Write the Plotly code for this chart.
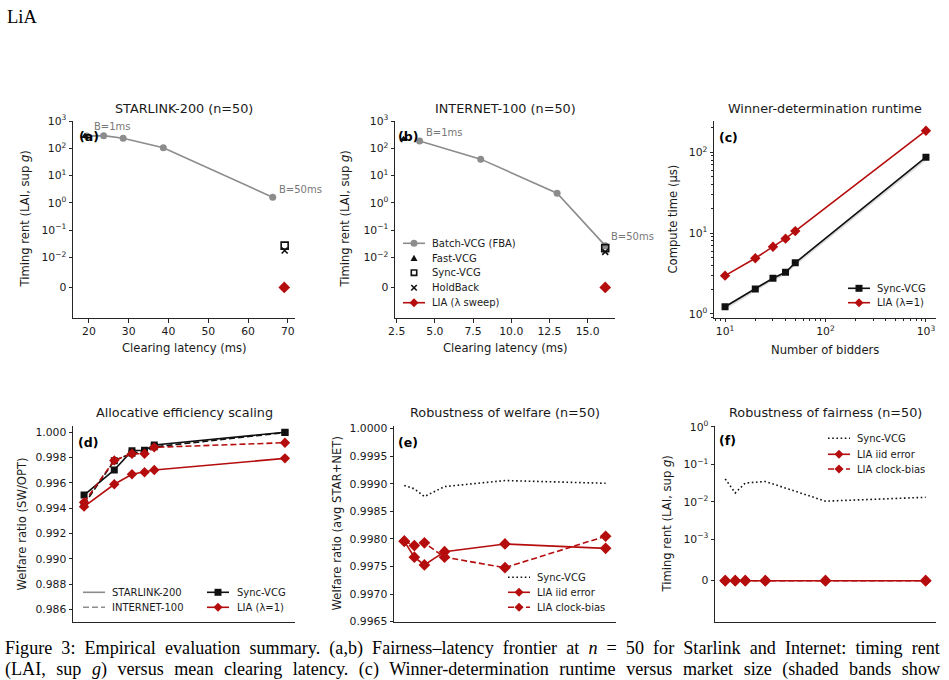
import math
import plotly.graph_objects as go

W, H = 949, 680

# ---------------- data ----------------
# (a) STARLINK-200
a_batch_lat = [19.5, 23.7, 28.6, 38.7, 66.2]
a_batch_rent = [280, 290, 233, 105, 1.6]
a_fast_lat = [19.0]
a_fast_rent = [275]
a_sync_lat = [69.2]
a_sync_rent = [0.027]
a_hold_lat = [69.2]
a_hold_rent = [0.018]
a_lia_lat = [69.1]
a_lia_rent = [0.0]

# (b) INTERNET-100
b_batch_lat = [4.0, 8.0, 13.0, 16.15]
b_batch_rent = [185, 40, 2.26, 0.027]
b_fast_lat = [2.95]
b_fast_rent = [215]
b_sync_lat = [16.15]
b_sync_rent = [0.022]
b_hold_lat = [16.15]
b_hold_rent = [0.016]
b_lia_lat = [16.15]
b_lia_rent = [0.0]

# (c) runtime
n_bidders = [10, 20, 30, 40, 50, 1000]
c_sync = [1.23, 2.04, 2.77, 3.28, 4.3, 87]
c_sync_lo = [1.13, 1.88, 2.58, 3.03, 3.95, 79]
c_sync_hi = [1.27, 2.09, 2.84, 3.38, 4.42, 89]
c_lia = [2.98, 4.89, 6.8, 8.55, 10.6, 185]

# (d) allocative efficiency
d_sync_star = [0.99504, 0.99702, 0.99855, 0.99858, 0.99900, 1.00000]
d_sync_net = [0.99430, 0.99775, 0.99835, 0.99850, 0.99885, 0.99998]
d_lia_star = [0.99412, 0.99589, 0.99668, 0.99684, 0.99702, 0.99794]
d_lia_net = [0.99446, 0.99778, 0.99831, 0.99831, 0.99881, 0.99918]

# (e) robustness of welfare
err_level = [0, 0.5, 1, 2, 5, 10]
e_sync = [0.99897, 0.99891, 0.99877, 0.99895, 0.99906, 0.99901]
e_lia_iid = [0.99796, 0.99767, 0.99753, 0.99777, 0.99791, 0.99783]
e_lia_clock = [0.99796, 0.99788, 0.99793, 0.99767, 0.99748, 0.99805]

# (f) robustness of fairness
f_sync = [0.041, 0.0173, 0.0317, 0.035, 0.0104, 0.0132]
f_lia_iid = [0, 0, 0, 0, 0, 0]
f_lia_clock = [0, 0, 0, 0, 0, 0]

# ---------------- styling ----------------
GRAY = "#8c8c8c"
RED = "#b50d0d"
BLACK = "#111111"
AX = "#262626"
FONT = "DejaVu Sans"
DASH = "6px,3px"
DOT = "1.6px,2.6px"
LW = 1.6


def symlog(vals, zero_pos):
    return [math.log10(v) if v > 0 else zero_pos for v in vals]


def dx(l, r):
    return [l / W, r / W]


def dy(top, bottom):
    return [1 - bottom / H, 1 - top / H]


def px_x(x):
    return x / W


def px_y(y):
    return 1 - y / H


ZA = -3.1    # position of 0 on symlog-like axes (a),(b)
ZF = -4.108  # position of 0 on axis (f)

fig = go.Figure()


def add(x, y, ax, mode, color, dash="solid", symbol=None, size=7, open_=False):
    kw = dict(x=x, y=y, xaxis="x" + ax, yaxis="y" + ax, mode=mode, showlegend=False, hoverinfo="x+y")
    if "lines" in mode:
        kw["line"] = dict(color=color, width=LW, dash=dash)
    if "markers" in mode:
        if open_:
            kw["marker"] = dict(symbol=symbol, size=size, color=color, line=dict(width=LW, color=color))
        else:
            kw["marker"] = dict(symbol=symbol, size=size, color=color, line=dict(width=0))
    fig.add_trace(go.Scatter(**kw))


# ---- (a) ----
add(a_batch_lat, symlog(a_batch_rent, ZA), "", "lines+markers", GRAY, symbol="circle", size=7)
add(a_fast_lat, symlog(a_fast_rent, ZA), "", "markers", BLACK, symbol="triangle-up", size=7)
add(a_sync_lat, symlog(a_sync_rent, ZA), "", "markers", BLACK, symbol="square-open", size=7, open_=True)
add(a_hold_lat, symlog(a_hold_rent, ZA), "", "markers", BLACK, symbol="x-thin", size=6, open_=True)
add(a_lia_lat, symlog(a_lia_rent, ZA), "", "markers", RED, symbol="diamond", size=9)

# ---- (b) ----
add(b_batch_lat, symlog(b_batch_rent, ZA), "2", "lines+markers", GRAY, symbol="circle", size=7)
add(b_fast_lat, symlog(b_fast_rent, ZA), "2", "markers", BLACK, symbol="triangle-up", size=7)
add(b_sync_lat, symlog(b_sync_rent, ZA), "2", "markers", BLACK, symbol="square-open", size=7, open_=True)
add(b_hold_lat, symlog(b_hold_rent, ZA), "2", "markers", BLACK, symbol="x-thin", size=6, open_=True)
add(b_lia_lat, symlog(b_lia_rent, ZA), "2", "markers", RED, symbol="diamond", size=9)

# ---- (c) ----
fig.add_trace(go.Scatter(x=n_bidders, y=c_sync_hi, xaxis="x3", yaxis="y3", mode="lines",
                         line=dict(width=0), showlegend=False, hoverinfo="skip"))
fig.add_trace(go.Scatter(x=n_bidders, y=c_sync_lo, xaxis="x3", yaxis="y3", mode="lines",
                         line=dict(width=0), fill="tonexty", fillcolor="rgba(0,0,0,0.14)",
                         showlegend=False, hoverinfo="skip"))
add(n_bidders, c_sync, "3", "lines+markers", BLACK, symbol="square", size=7)
add(n_bidders, c_lia, "3", "lines+markers", RED, symbol="diamond", size=8)

# ---- (d) ----
add(n_bidders, d_sync_star, "4", "lines+markers", BLACK, symbol="square", size=7)
add(n_bidders, d_sync_net, "4", "lines+markers", BLACK, dash=DASH, symbol="square", size=7)
add(n_bidders, d_lia_star, "4", "lines+markers", RED, symbol="diamond", size=8)
add(n_bidders, d_lia_net, "4", "lines+markers", RED, dash=DASH, symbol="diamond", size=8)

# ---- (e) ----
add(err_level, e_sync, "5", "lines", BLACK, dash=DOT)
add(err_level, e_lia_iid, "5", "lines+markers", RED, symbol="diamond", size=9)
add(err_level, e_lia_clock, "5", "lines+markers", RED, dash=DASH, symbol="diamond", size=9)

# ---- (f) ----
add(err_level, symlog(f_sync, ZF), "6", "lines", BLACK, dash=DOT)
add(err_level, symlog(f_lia_iid, ZF), "6", "lines+markers", RED, symbol="diamond", size=9)
add(err_level, symlog(f_lia_clock, ZF), "6", "lines+markers", RED, dash=DASH, symbol="diamond", size=9)

# ---------------- axes ----------------
tickfont = dict(family=FONT, size=10.8, color="#1a1a1a")


def base_axis(**kw):
    d = dict(showline=True, linecolor=AX, linewidth=1, ticks="outside", ticklen=3.5, tickwidth=1,
             tickcolor=AX, showgrid=False, zeroline=False, tickfont=tickfont, mirror=False,
             automargin=False)
    d.update(kw)
    return d


sym_a_vals = [3, 2, 1, 0, -1, -2, ZA]
sym_a_text = ["10<sup>3</sup>", "10<sup>2</sup>", "10<sup>1</sup>", "10<sup>0</sup>",
              "10<sup>−1</sup>", "10<sup>−2</sup>", "0"]
sym_f_vals = [0, -1, -2, -3, ZF]
sym_f_text = ["10<sup>0</sup>", "10<sup>−1</sup>", "10<sup>−2</sup>", "10<sup>−3</sup>", "0"]

minor_log = dict(ticks="outside", ticklen=2, tickcolor=AX, dtick="D1", showgrid=False)

layout_axes = dict(
    xaxis=base_axis(domain=dx(73, 295), range=[16, 71.8], tickvals=[20, 30, 40, 50, 60, 70], anchor="y"),
    yaxis=base_axis(domain=dy(121, 318), range=[-4.22, 3.0], tickvals=sym_a_vals, ticktext=sym_a_text,
                    anchor="x"),
    xaxis2=base_axis(domain=dx(395, 615), range=[2.39, 16.79], tickvals=[2.5, 5, 7.5, 10, 12.5, 15],
                     ticktext=["2.5", "5.0", "7.5", "10.0", "12.5", "15.0"], anchor="y2"),
    yaxis2=base_axis(domain=dy(121, 318), range=[-4.22, 3.0], tickvals=sym_a_vals, ticktext=sym_a_text,
                     anchor="x2"),
    xaxis3=base_axis(domain=dx(714, 936), type="log", range=[0.89, 3.1], tickvals=[10, 100, 1000],
                     ticktext=["10<sup>1</sup>", "10<sup>2</sup>", "10<sup>3</sup>"], anchor="y3",
                     minor=minor_log),
    yaxis3=base_axis(domain=dy(121, 317.7), type="log", range=[-0.046, 2.387], tickvals=[1, 10, 100],
                     ticktext=["10<sup>0</sup>", "10<sup>1</sup>", "10<sup>2</sup>"], anchor="x3",
                     minor=minor_log),
    xaxis4=base_axis(domain=dx(73, 295), type="log", range=[0.89, 3.1], ticks="", showticklabels=False,
                     anchor="y4"),
    yaxis4=base_axis(domain=dy(426, 621.7), range=[0.98502, 1.0005],
                     tickvals=[0.986, 0.988, 0.990, 0.992, 0.994, 0.996, 0.998, 1.000],
                     ticktext=["0.986", "0.988", "0.990", "0.992", "0.994", "0.996", "0.998", "1.000"],
                     anchor="x4"),
    xaxis5=base_axis(domain=dx(394, 615.7), range=[-0.51, 10.5], ticks="", showticklabels=False,
                     anchor="y5"),
    yaxis5=base_axis(domain=dy(426, 621.7), range=[0.9965, 1.000049],
                     tickvals=[0.9965, 0.9970, 0.9975, 0.9980, 0.9985, 0.9990, 0.9995, 1.0000],
                     ticktext=["0.9965", "0.9970", "0.9975", "0.9980", "0.9985", "0.9990", "0.9995", "1.0000"],
                     anchor="x5"),
    xaxis6=base_axis(domain=dx(715, 935.7), range=[-0.51, 10.5], ticks="", showticklabels=False,
                     anchor="y6"),
    yaxis6=base_axis(domain=dy(426, 621.7), range=[-5.204, 0.026], tickvals=sym_f_vals, ticktext=sym_f_text,
                     anchor="x6"),
)

# ---------------- annotations & legend glyphs ----------------
ann = []
shapes = []


def text(x, y, s, size=11, color="#1a1a1a", family=FONT, xanchor="center", yanchor="middle", angle=0,
         bold=False):
    if bold:
        s = "<b>" + s + "</b>"
    ann.append(dict(x=px_x(x), y=px_y(y), xref="paper", yref="paper", text=s, showarrow=False,
                    font=dict(family=family, size=size, color=color), xanchor=xanchor, yanchor=yanchor,
                    textangle=angle, borderpad=0, borderwidth=0))


def seg(x0, y0, x1, y1, color, width=LW, dash="solid"):
    shapes.append(dict(type="line", xref="paper", yref="paper", x0=px_x(x0), y0=px_y(y0),
                       x1=px_x(x1), y1=px_y(y1), line=dict(color=color, width=width, dash=dash)))


def path(pts, color, fill=True, width=0):
    d = "M " + " L ".join(f"{px_x(a):.6f},{px_y(b):.6f}" for a, b in pts) + " Z"
    shapes.append(dict(type="path", xref="paper", yref="paper", path=d,
                       fillcolor=color if fill else "rgba(0,0,0,0)",
                       line=dict(color=color, width=width)))


def glyph(kind, cx, cy, color, size):
    r = size / 2
    if kind == "circle":
        shapes.append(dict(type="circle", xref="paper", yref="paper", x0=px_x(cx - r), x1=px_x(cx + r),
                           y0=px_y(cy + r), y1=px_y(cy - r), fillcolor=color, line=dict(width=0)))
    elif kind == "square":
        path([(cx - r, cy - r), (cx + r, cy - r), (cx + r, cy + r), (cx - r, cy + r)], color)
    elif kind == "square-open":
        path([(cx - r + 0.8, cy - r + 0.8), (cx + r - 0.8, cy - r + 0.8), (cx + r - 0.8, cy + r - 0.8),
              (cx - r + 0.8, cy + r - 0.8)], color, fill=False, width=LW)
    elif kind == "diamond":
        path([(cx, cy - r), (cx + r, cy), (cx, cy + r), (cx - r, cy)], color)
    elif kind == "triangle":
        path([(cx, cy - r), (cx + r, cy + r * 0.8), (cx - r, cy + r * 0.8)], color)
    elif kind == "x":
        seg(cx - r, cy - r, cx + r, cy + r, color)
        seg(cx - r, cy + r, cx + r, cy - r, color)


def legend_entry(x0, x1, xt, y, label, line_color=None, dash="solid", kind=None, mcolor=None, msize=7):
    if line_color:
        seg(x0, y, x1, y, line_color, dash=dash)
    if kind:
        glyph(kind, (x0 + x1) / 2, y, mcolor, msize)
    text(xt, y, label, size=10, xanchor="left")


# legend (b)
legend_entry(403, 425, 432, 243.3, "Batch-VCG (FBA)", GRAY, kind="circle", mcolor=GRAY, msize=7)
legend_entry(403, 425, 432, 258.3, "Fast-VCG", None, kind="triangle", mcolor=BLACK, msize=7)
legend_entry(403, 425, 432, 272.7, "Sync-VCG", None, kind="square-open", mcolor=BLACK, msize=7)
legend_entry(403, 425, 432, 287.7, "HoldBack", None, kind="x", mcolor=BLACK, msize=5.5)
legend_entry(403, 425, 432, 302.7, "LIA (λ sweep)", RED, kind="diamond", mcolor=RED, msize=9)
# legend (c)
legend_entry(848, 870, 877, 288.3, "Sync-VCG", BLACK, kind="square", mcolor=BLACK, msize=7)
legend_entry(848, 870, 877, 302.7, "LIA (λ=1)", RED, kind="diamond", mcolor=RED, msize=9)
# legend (d)
legend_entry(83, 105, 112, 592.3, "STARLINK-200", GRAY)
legend_entry(83, 105, 112, 607.3, "INTERNET-100", GRAY, dash=DASH)
legend_entry(207, 229, 237, 592.3, "Sync-VCG", BLACK, kind="square", mcolor=BLACK, msize=7)
legend_entry(207, 229, 237, 607.3, "LIA (λ=1)", RED, kind="diamond", mcolor=RED, msize=9)
# legend (e)
legend_entry(508, 530, 537, 577.3, "Sync-VCG", BLACK, dash=DOT)
legend_entry(508, 530, 537, 592.3, "LIA iid error", RED, kind="diamond", mcolor=RED, msize=9)
legend_entry(508, 530, 537, 607.3, "LIA clock-bias", RED, dash=DASH, kind="diamond", mcolor=RED, msize=9)
# legend (f)
legend_entry(828, 850, 857, 438.3, "Sync-VCG", BLACK, dash=DOT)
legend_entry(828, 850, 857, 454.3, "LIA iid error", RED, kind="diamond", mcolor=RED, msize=9)
legend_entry(828, 850, 857, 469.0, "LIA clock-bias", RED, dash=DASH, kind="diamond", mcolor=RED, msize=9)

# titles
TS = 12.8
text(184, 108.5, "STARLINK-200 (n=50)", size=TS)
text(505, 108.5, "INTERNET-100 (n=50)", size=TS)
text(825, 108.5, "Winner-determination runtime", size=TS)
text(184, 412.5, "Allocative efficiency scaling", size=TS)
text(505, 412.5, "Robustness of welfare (n=50)", size=TS)
text(825, 412.5, "Robustness of fairness (n=50)", size=TS)

# axis titles
LS = 11.6
text(184, 348, "Clearing latency (ms)", size=LS)
text(505, 348, "Clearing latency (ms)", size=LS)
text(825, 350, "Number of bidders", size=LS)
text(25, 219.5, "Timing rent (LAI, sup <i>g</i>)", size=LS, angle=-90)
text(345, 219.5, "Timing rent (LAI, sup <i>g</i>)", size=LS, angle=-90)
text(673, 219.5, "Compute time (μs)", size=LS, angle=-90)
text(21.5, 524, "Welfare ratio (SW/OPT)", size=LS, angle=-90)
text(336.5, 524, "Welfare ratio (avg STAR+NET)", size=LS, angle=-90)
text(666.5, 524, "Timing rent (LAI, sup <i>g</i>)", size=LS, angle=-90)

# panel letters
text(79, 137, "(a)", size=12.5, bold=True, xanchor="left", color="#000")
text(398, 137, "(b)", size=12.5, bold=True, xanchor="left", color="#000")
text(719, 138, "(c)", size=12.5, bold=True, xanchor="left", color="#000")
text(78, 442, "(d)", size=12.5, bold=True, xanchor="left", color="#000")
text(398, 442, "(e)", size=12.5, bold=True, xanchor="left", color="#000")
text(719, 440, "(f)", size=12.5, bold=True, xanchor="left", color="#000")

# batch-size annotations
text(94, 126, "B=1ms", size=10, color="#777", xanchor="left")
text(279, 189, "B=50ms", size=10, color="#777", xanchor="left")
text(426, 133, "B=1ms", size=10, color="#777", xanchor="left")
text(611, 236, "B=50ms", size=10, color="#777", xanchor="left")

# header + caption
text(7, 17, "LiA", size=18.5, color="#000", family="Liberation Serif", xanchor="left")
text(5, 648, '<span style="word-spacing:4.6px">Figure 3: Empirical evaluation summary. (a,b) '
             'Fairness–latency frontier at <i>n</i> = 50 for Starlink and Internet: timing rent</span>',
     size=18.1, color="#000", family="Liberation Serif", xanchor="left")
text(5, 669, '<span style="word-spacing:6px">(LAI, sup <i>g</i>) versus mean clearing latency. '
             '(c) Winner-determination runtime versus market size (shaded bands show</span>',
     size=18.1, color="#000", family="Liberation Serif", xanchor="left")

fig.update_layout(
    width=W, height=H, margin=dict(l=0, r=0, t=0, b=0),
    paper_bgcolor="white", plot_bgcolor="white",
    annotations=ann, shapes=shapes, showlegend=False,
    **layout_axes,
)

fig.write_html("out.html")
